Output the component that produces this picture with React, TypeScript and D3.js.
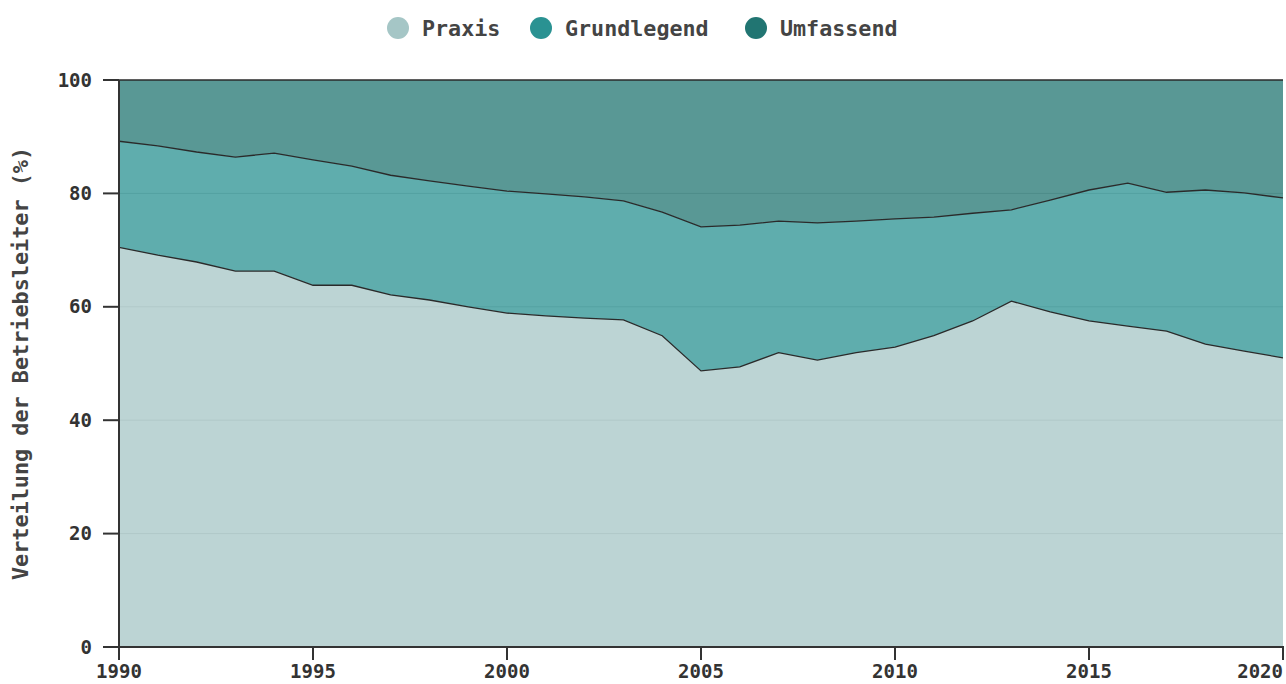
import React from "react";
import * as d3 from "d3";

const years = [1990,1991,1992,1993,1994,1995,1996,1997,1998,1999,2000,2001,2002,2003,2004,2005,2006,2007,2008,2009,2010,2011,2012,2013,2014,2015,2016,2017,2018,2019,2020];
const praxis = [70.5,69.1,67.9,66.3,66.3,63.8,63.8,62.1,61.2,60.0,58.9,58.4,58.0,57.7,54.9,48.7,49.4,51.9,50.6,51.9,52.9,54.9,57.5,61.0,59.1,57.5,56.6,55.7,53.4,52.2,51.0];
const cumulative2 = [89.2,88.4,87.3,86.4,87.1,85.9,84.8,83.2,82.2,81.3,80.4,79.9,79.4,78.7,76.7,74.1,74.4,75.1,74.8,75.1,75.5,75.8,76.5,77.1,78.8,80.6,81.8,80.2,80.6,80.1,79.2];
const grundlegend = cumulative2.map((v, i) => +(v - praxis[i]).toFixed(1));
const umfassend = cumulative2.map((v) => +(100 - v).toFixed(1));
const seriesNames = ["Praxis", "Grundlegend", "Umfassend"];
const seriesColors = ["#a5c6c6", "#2a9292", "#217572"];
const yTicks = [0, 20, 40, 60, 80, 100];
const xTicks = [1990, 1995, 2000, 2005, 2010, 2015, 2020];

const FONT = "'DejaVu Sans Mono', monospace";

export default function App() {
  const W = 1286, H = 684;
  const x = d3.scaleLinear().domain([1990, 2020]).range([119, 1283]);
  const y = d3.scaleLinear().domain([0, 100]).range([647, 80]);
  const rows = years.map((yr, i) => ({ year: yr, Praxis: praxis[i], Grundlegend: grundlegend[i], Umfassend: umfassend[i] }));
  const stack = d3.stack<any>().keys(seriesNames)(rows);
  const area = d3.area<any>().x((d) => x(d.data.year)).y0((d) => y(d[0])).y1((d) => y(d[1]));
  const line = d3.line<any>().x((d) => x(d.data.year)).y((d) => y(d[1]));
  const legendX = [398, 541, 756];

  return (
    <svg width={W} height={H} style={{ position: "absolute", left: 0, top: 0, background: "#fff" }} fontFamily={FONT}>
      {yTicks.filter((t) => t > 0 && t < 100).map((t) => (
        <line key={t} x1={x(1990)} x2={x(2020)} y1={y(t)} y2={y(t)} stroke="#cfcfcf" strokeWidth={1} />
      ))}
      {stack.map((s, i) => (
        <path key={s.key} d={area(s) || ""} fill={seriesColors[i]} fillOpacity={0.75} />
      ))}
      {stack.map((s) => (
        <path key={"l" + s.key} d={line(s) || ""} fill="none" stroke="#2a2a2a" strokeWidth={1.3} />
      ))}
      <line x1={119} x2={119} y1={y(100)} y2={y(0)} stroke="#333" strokeWidth={2} />
      {yTicks.map((t) => (
        <g key={t}>
          <line x1={103} x2={119} y1={y(t)} y2={y(t)} stroke="#333" strokeWidth={2} />
          <text x={92} y={y(t)} dy="0.35em" textAnchor="end" fontSize={19} fontWeight="bold" fill="#333">{t}</text>
        </g>
      ))}
      <line x1={118} x2={x(2020) + 1} y1={y(0)} y2={y(0)} stroke="#333" strokeWidth={2} />
      {xTicks.map((t, i) => (
        <g key={t}>
          <line x1={x(t)} x2={x(t)} y1={y(0)} y2={y(0) + 13} stroke="#333" strokeWidth={2} />
          <text x={x(t)} y={y(0) + 31} textAnchor={i === xTicks.length - 1 ? "end" : "middle"} fontSize={19} fontWeight="bold" fill="#333">{t}</text>
        </g>
      ))}
      <text transform={`translate(28,${(y(0) + y(100)) / 2}) rotate(-90)`} textAnchor="middle" fontSize={21.8} fontWeight="bold" fill="#444">Verteilung der Betriebsleiter (%)</text>
      {seriesNames.map((n, i) => (
        <g key={n}>
          <circle cx={legendX[i]} cy={28} r={11} fill={seriesColors[i]} />
          <text x={legendX[i] + 24} y={28.5} dy="0.35em" fontSize={21.7} fontWeight="bold" fill="#444">{n}</text>
        </g>
      ))}
    </svg>
  );
}
